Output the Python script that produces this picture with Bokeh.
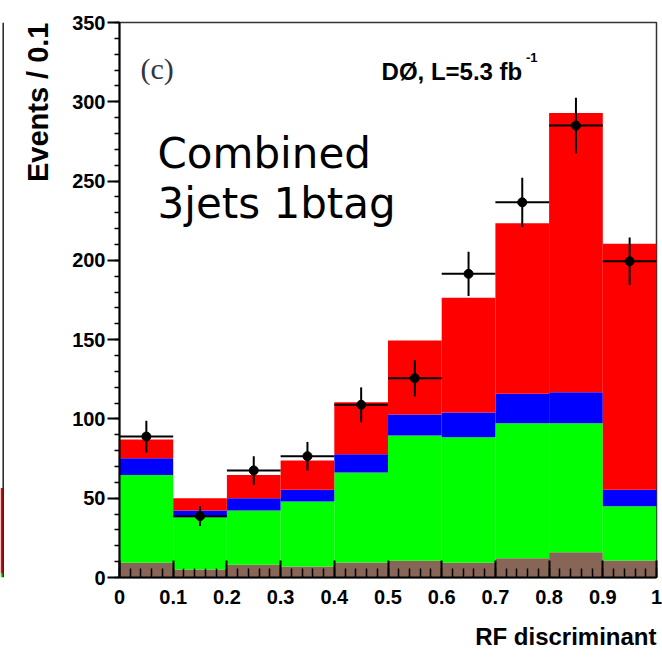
import numpy as np
from bokeh.plotting import figure
from bokeh.models import Label, Range1d, FixedTicker, Title
from bokeh.layouts import row
from bokeh.embed import file_html
from bokeh.resources import INLINE

# ---------------- data ----------------
bin_edges = [0.0, 0.1, 0.2, 0.3, 0.4, 0.5, 0.6, 0.7, 0.8, 0.9, 1.0]
brown = [9.3, 5.0, 8.0, 6.9, 9.5, 10.5, 9.3, 12.2, 16.0, 10.7]
green = [55.4, 33.0, 34.2, 41.0, 56.7, 79.0, 79.2, 85.1, 81.3, 34.3]
blue = [10.5, 4.2, 7.8, 7.4, 11.6, 13.3, 15.5, 18.5, 19.5, 10.3]
red = [11.8, 7.8, 14.7, 18.5, 32.7, 46.6, 72.4, 107.6, 176.2, 155.1]
data_counts = [88.9, 38.7, 67.5, 76.5, 108.9, 125.7, 191.5, 236.6, 285.0, 199.4]
data_err = [10.0, 6.3, 9.0, 9.0, 11.0, 11.5, 14.0, 15.5, 17.5, 15.0]

x_ticks = [0.0, 0.1, 0.2, 0.3, 0.4, 0.5, 0.6, 0.7, 0.8, 0.9, 1.0]
x_tick_labels = ["0", "0.1", "0.2", "0.3", "0.4", "0.5", "0.6", "0.7", "0.8", "0.9", "1"]
y_ticks = [0, 50, 100, 150, 200, 250, 300, 350]

# fragment of neighbouring panel (b) at left edge
left_green = [2.5]
left_red = [54.0]

layer_colors = ["#876657", "#00ff00", "#0000ff", "#ff0000"]
FONT = "Liberation Sans"

# ---------------- derived ----------------
left = np.array(bin_edges[:-1])
right = np.array(bin_edges[1:])
centers = (left + right) / 2
layers = [np.array(brown), np.array(green), np.array(blue), np.array(red)]
cum = np.cumsum(np.vstack(layers), axis=0)
d = np.array(data_counts)
e = np.array(data_err)

# ---------------- main figure ----------------
p = figure(width=658, height=664, x_range=Range1d(0, 1), y_range=Range1d(0, 350),
           output_backend="svg", toolbar_location=None,
           min_border_left=115, min_border_right=6, min_border_top=22, min_border_bottom=87)
p.xgrid.visible = False
p.ygrid.visible = False
p.outline_line_color = "#333333"
p.outline_line_width = 1.5
p.background_fill_color = "white"
p.border_fill_color = "white"

for i, col in enumerate(layer_colors):
    bottom = cum[i - 1] if i > 0 else np.zeros_like(cum[0])
    p.quad(left=left, right=right, bottom=bottom, top=cum[i],
           fill_color=col, line_color=None)

# data points with error bars
p.segment(x0=centers, y0=d - e, x1=centers, y1=d + e, line_color="black", line_width=2)
p.segment(x0=left, y0=d, x1=right, y1=d, line_color="black", line_width=2)
p.scatter(x=centers, y=d, size=9, color="black")

# axes
xa = p.xaxis[0]
xa.ticker = FixedTicker(ticks=x_ticks, minor_ticks=[round(i * 0.02, 2) for i in range(51)])
xa.major_label_overrides = dict(zip(x_ticks, x_tick_labels))
xa.axis_line_width = 2
xa.major_tick_in = 17
xa.major_tick_out = 0
xa.minor_tick_in = 9
xa.minor_tick_out = 0
xa.major_tick_line_width = 2
xa.minor_tick_line_width = 1.5
xa.major_label_standoff = 12
xa.major_label_text_font = FONT
xa.major_label_text_font_style = "bold"
xa.major_label_text_font_size = "20px"
xa.major_label_text_color = "black"

ya = p.yaxis[0]
ya.ticker = FixedTicker(ticks=y_ticks, minor_ticks=list(range(0, 351, 10)))
ya.axis_line_width = 2
ya.major_tick_in = 0
ya.major_tick_out = 12
ya.minor_tick_in = 0
ya.minor_tick_out = 5
ya.major_tick_line_width = 2
ya.minor_tick_line_width = 1.5
ya.major_label_standoff = 2
ya.major_label_text_font = FONT
ya.major_label_text_font_style = "bold"
ya.major_label_text_font_size = "20px"
ya.major_label_text_color = "black"

# axis titles (right / top aligned as in ROOT)
p.add_layout(Title(text="RF discriminant", align="right", text_font=FONT,
                   text_font_style="bold", text_font_size="24px", text_color="black",
                   standoff=28), "below")
p.add_layout(Title(text="Events / 0.1", align="right", text_font=FONT,
                   text_font_style="bold", text_font_size="29px", text_color="black",
                   standoff=31), "left")

# texts
p.add_layout(Label(x=0.039, y=321, text="(c)", text_align="left",
                   text_baseline="alphabetic", text_font="Liberation Serif",
                   text_font_size="30px", text_color="#333344"))
p.add_layout(Label(x=0.488, y=319, text="DØ, L=5.3 fb", text_align="left",
                   text_baseline="alphabetic", text_font=FONT, text_font_style="bold",
                   text_font_size="24px", text_color="black"))
p.add_layout(Label(x=0.757, y=328, text="-1", text_align="left",
                   text_baseline="alphabetic", text_font=FONT, text_font_style="bold",
                   text_font_size="13px", text_color="black"))
p.add_layout(Label(x=0.0708, y=267.3, text="Combined", text_align="left",
                   text_baseline="alphabetic", text_font="DejaVu Sans",
                   text_font_size="42px", text_color="black"))
p.add_layout(Label(x=0.0708, y=235.6, text="3jets 1btag", text_align="left",
                   text_baseline="alphabetic", text_font="DejaVu Sans",
                   text_font_size="42px", text_color="black"))

# ---------------- left sliver (neighbouring panel) ----------------
lf = figure(width=4, height=664, x_range=Range1d(0, 4), y_range=Range1d(0, 350),
            output_backend="svg", toolbar_location=None,
            x_axis_location=None, y_axis_location=None,
            min_border_left=0, min_border_right=0, min_border_top=20, min_border_bottom=87)
lf.xgrid.visible = False
lf.ygrid.visible = False
lf.outline_line_color = None
lf.border_fill_color = "white"
lf.quad(left=[0], right=[2.5], bottom=[0], top=left_green, fill_color="#00ff00", line_color=None)
lf.quad(left=[0], right=[2.5], bottom=left_green, top=np.array(left_green) + np.array(left_red),
        fill_color="#ff0000", line_color=None)
lf.segment(x0=[2.7], y0=[0], x1=[2.7], y1=[350], line_color="#222222", line_width=1.5)

layout = row(lf, p)
open("out.html", "w").write(file_html(layout, INLINE))
